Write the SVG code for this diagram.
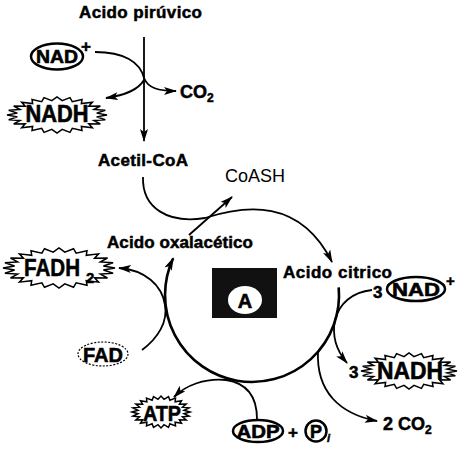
<svg xmlns="http://www.w3.org/2000/svg" width="459" height="450" viewBox="0 0 459 450">
<style>
.lbl{font-family:"Liberation Sans",Arial,sans-serif;font-weight:bold;fill:#000;stroke:#000;stroke-width:0.5}
.reg{font-family:"Liberation Sans",Arial,sans-serif;font-weight:normal;fill:#000}
.mol{font-family:"Liberation Sans",Arial,sans-serif;font-weight:bold;fill:#000;stroke:#000;stroke-width:0.6;text-anchor:middle}
.oval{fill:#fff;stroke:#000;stroke-width:2.5}
.dash{fill:#fff;stroke:#000;stroke-width:1.2;stroke-dasharray:2 1.5}
.burst{fill:#fff;stroke:#000;stroke-width:1.5}
.ln{fill:none;stroke:#000;stroke-width:1.8}
.thick{fill:none;stroke:#000;stroke-width:2.6}
</style>
<defs>
<marker id="ah" markerUnits="userSpaceOnUse" markerWidth="14" markerHeight="10" refX="12" refY="4" orient="auto">
<path d="M0,0 L13,4 L0,8 L3,4 z" fill="#000"/>
</marker>
<polygon id="star" vector-effect="non-scaling-stroke" points="1,0 0.793,0.104 0.966,0.259 0.739,0.306 0.866,0.5 0.635,0.487 0.707,0.707 0.487,0.635 0.5,0.866 0.306,0.739 0.259,0.966 0.104,0.793 0,1 -0.104,0.793 -0.259,0.966 -0.306,0.739 -0.5,0.866 -0.487,0.635 -0.707,0.707 -0.635,0.487 -0.866,0.5 -0.739,0.306 -0.966,0.259 -0.793,0.104 -1,0 -0.793,-0.104 -0.966,-0.259 -0.739,-0.306 -0.866,-0.5 -0.635,-0.487 -0.707,-0.707 -0.487,-0.635 -0.5,-0.866 -0.306,-0.739 -0.259,-0.966 -0.104,-0.793 0,-1 0.104,-0.793 0.259,-0.966 0.306,-0.739 0.5,-0.866 0.487,-0.635 0.707,-0.707 0.635,-0.487 0.866,-0.5 0.739,-0.306 0.966,-0.259 0.793,-0.104"/>
</defs>
<rect width="459" height="450" fill="#fff"/>

<g id="connectors">
<path class="ln" d="M144,37 L144,141" marker-end="url(#ah)"/>
<path class="ln" d="M95,52 C124,52 140,62 144,78 C148,88 158,91 176,91" marker-end="url(#ah)"/>
<path class="ln" d="M144,80 C138,90 126,95 106,98" marker-end="url(#ah)"/>
<path class="ln" d="M143,177 C142,208 168,224 205,218 C245,205 300,198 332,262" marker-end="url(#ah)"/>
<path class="ln" d="M189,235 L232,197" marker-end="url(#ah)"/>
<path class="thick" d="M338.7,287.4 A87,87 0 1 1 173.2,258.2" marker-end="url(#ah)"/>
<path class="ln" d="M142,350 C158,338 168,322 165,305 C162,285 145,270 119,268" marker-end="url(#ah)"/>
<path class="ln" d="M372,290 C352,292 339,304 335,320 C332,335 336,350 347,363" marker-end="url(#ah)"/>
<path class="ln" d="M318,351 C316,392 340,414 377,421" marker-end="url(#ah)"/>
<path class="ln" d="M257,419 C257,396 246,383 226,380 C205,378 186,385 174,397" marker-end="url(#ah)"/>
</g>

<g id="acido-piruvico"><text class="lbl" x="79" y="18" font-size="17" textLength="123">Acido pirúvico</text></g>

<g id="nad-top">
<ellipse class="oval" cx="57" cy="56.5" rx="26" ry="13"/>
<text class="mol" x="57" y="63" font-size="19" textLength="42" lengthAdjust="spacingAndGlyphs">NAD</text>
<text class="lbl" x="81" y="52" font-size="17">+</text>
</g>

<g id="nadh-top">
<use href="#star" class="burst" transform="translate(57,115) scale(50,18)"/>
<text class="mol" x="57" y="122" font-size="23" textLength="63" lengthAdjust="spacingAndGlyphs">NADH</text>
</g>

<g id="co2-top"><text class="lbl" x="180" y="98" font-size="18">CO<tspan font-size="12" dy="4">2</tspan></text></g>

<g id="acetil-coa"><text class="lbl" x="98" y="166" font-size="17" textLength="90">Acetil-CoA</text></g>

<g id="coash"><text class="reg" x="225" y="182" font-size="18" textLength="60">CoASH</text></g>

<g id="acido-oxalacetico"><text class="lbl" x="107" y="248" font-size="17" textLength="146">Acido oxalacético</text></g>

<g id="acido-citrico"><text class="lbl" x="283" y="278" font-size="17" textLength="109">Acido citrico</text></g>

<g id="box-a">
<rect x="212" y="268" width="65" height="50" fill="#111"/>
<ellipse cx="245" cy="300" rx="17" ry="14" fill="#fff"/>
<text class="mol" x="245" y="308" font-size="20">A</text>
</g>

<g id="fadh2">
<use href="#star" class="burst" transform="translate(59,268) scale(56,20)"/>
<text class="lbl" x="24" y="276" font-size="23" textLength="56" lengthAdjust="spacingAndGlyphs">FADH</text>
<text class="lbl" x="86" y="283" font-size="15">2</text>
</g>

<g id="nad-right">
<text class="lbl" x="373" y="298" font-size="17">3</text>
<ellipse class="oval" cx="416" cy="289" rx="29" ry="12"/>
<text class="mol" x="416" y="296" font-size="19" textLength="48" lengthAdjust="spacingAndGlyphs">NAD</text>
<text class="lbl" x="446" y="286" font-size="15">+</text>
</g>

<g id="fad">
<ellipse class="dash" cx="103" cy="354" rx="25" ry="12"/>
<text class="mol" x="103" y="362" font-size="21" textLength="40" lengthAdjust="spacingAndGlyphs">FAD</text>
</g>

<g id="nadh-right">
<text class="lbl" x="349" y="378" font-size="17">3</text>
<use href="#star" class="burst" transform="translate(409,371) scale(48,18)"/>
<text class="mol" x="410" y="379" font-size="23" textLength="66" lengthAdjust="spacingAndGlyphs">NADH</text>
</g>

<g id="atp">
<use href="#star" class="burst" transform="translate(161,412) scale(29,16)"/>
<text class="mol" x="162" y="421" font-size="22" textLength="38" lengthAdjust="spacingAndGlyphs">ATP</text>
</g>

<g id="adp-pi">
<ellipse class="oval" cx="258" cy="431" rx="25" ry="11"/>
<text class="mol" x="258" y="438" font-size="19" textLength="43" lengthAdjust="spacingAndGlyphs">ADP</text>
<text class="lbl" x="288" y="438" font-size="17">+</text>
<circle cx="316" cy="431" r="10.5" fill="#fff" stroke="#000" stroke-width="2.5"/>
<text class="mol" x="316" y="438" font-size="18">P</text>
<text class="lbl" x="327" y="442" font-size="11" font-style="italic">i</text>
</g>

<g id="co2-bottom"><text class="lbl" x="383" y="430" font-size="18">2 CO<tspan font-size="12" dy="4">2</tspan></text></g>
</svg>
